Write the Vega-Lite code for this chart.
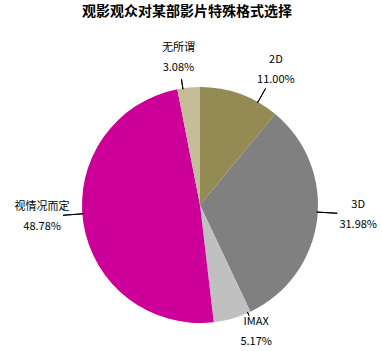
{
  "$schema": "https://vega.github.io/schema/vega-lite/v6.json",
  "width": 364,
  "height": 290,
  "autosize": "none",
  "padding": {"left": 18, "top": 60, "right": 0, "bottom": 0},
  "background": "white",
  "title": {
    "text": "观影观众对某部影片特殊格式选择",
    "font": "Noto Sans CJK SC",
    "fontSize": 14,
    "fontWeight": "bold",
    "color": "#000000",
    "anchor": "middle",
    "frame": "group",
    "dx": -13,
    "offset": 23
  },
  "config": {"view": {"stroke": null}},
  "data": {
    "values": [
      {"n": 1, "name": "2D", "value": 0.1100},
      {"n": 2, "name": "3D", "value": 0.3198},
      {"n": 3, "name": "IMAX", "value": 0.0517},
      {"n": 4, "name": "视情况而定", "value": 0.4878},
      {"n": 5, "name": "无所谓", "value": 0.0308}
    ]
  },
  "layer": [
    {
      "mark": {"type": "arc", "radius": 118},
      "encoding": {
        "theta": {"field": "value", "type": "quantitative", "stack": true},
        "order": {"field": "n", "type": "ordinal"},
        "color": {
          "field": "name",
          "type": "nominal",
          "legend": null,
          "scale": {
            "domain": ["2D", "3D", "IMAX", "视情况而定", "无所谓"],
            "range": ["#948A54", "#808080", "#C0C0C0", "#CC0099", "#C4BD97"]
          }
        }
      }
    },
    {
      "transform": [
        {"window": [{"op": "sum", "field": "value", "as": "cum"}], "sort": [{"field": "n"}], "frame": [null, 0]}
      ],
      "mark": {
        "type": "arc",
        "fill": null,
        "stroke": "#000000",
        "strokeWidth": 1,
        "theta": {"expr": "2*PI*(datum.cum - datum.value/2) + 0.2618*sin(4*PI*(datum.cum - datum.value/2))"},
        "theta2": {"expr": "2*PI*(datum.cum - datum.value/2) + 0.2618*sin(4*PI*(datum.cum - datum.value/2))"},
        "radius": {"expr": "max(121, 137 + 22*abs(sin(2*PI*(datum.cum - datum.value/2) + 0.2618*sin(4*PI*(datum.cum - datum.value/2)))) + 8*cos(2*PI*(datum.cum - datum.value/2) + 0.2618*sin(4*PI*(datum.cum - datum.value/2))) - 21)"},
        "radius2": 117
      },
      "encoding": {}
    },
    {
      "transform": [
        {"window": [{"op": "sum", "field": "value", "as": "cum"}], "sort": [{"field": "n"}], "frame": [null, 0]}
      ],
      "mark": {
        "type": "text",
        "font": "Noto Sans CJK SC",
        "fontSize": 11,
        "color": "#000000",
        "align": "center",
        "baseline": "middle",
        "dy": -10,
        "theta": {"expr": "2*PI*(datum.cum - datum.value/2) + 0.2618*sin(4*PI*(datum.cum - datum.value/2))"},
        "radius": {"expr": "137 + 22*abs(sin(2*PI*(datum.cum - datum.value/2) + 0.2618*sin(4*PI*(datum.cum - datum.value/2)))) + 8*cos(2*PI*(datum.cum - datum.value/2) + 0.2618*sin(4*PI*(datum.cum - datum.value/2)))"}
      },
      "encoding": {
        "text": {"field": "name", "type": "nominal"}
      }
    },
    {
      "transform": [
        {"window": [{"op": "sum", "field": "value", "as": "cum"}], "sort": [{"field": "n"}], "frame": [null, 0]}
      ],
      "mark": {
        "type": "text",
        "font": "Noto Sans CJK SC",
        "fontSize": 11,
        "color": "#000000",
        "align": "center",
        "baseline": "middle",
        "dy": 10,
        "theta": {"expr": "2*PI*(datum.cum - datum.value/2) + 0.2618*sin(4*PI*(datum.cum - datum.value/2))"},
        "radius": {"expr": "137 + 22*abs(sin(2*PI*(datum.cum - datum.value/2) + 0.2618*sin(4*PI*(datum.cum - datum.value/2)))) + 8*cos(2*PI*(datum.cum - datum.value/2) + 0.2618*sin(4*PI*(datum.cum - datum.value/2)))"}
      },
      "encoding": {
        "text": {"field": "value", "type": "quantitative", "format": ".2%"}
      }
    }
  ]
}
